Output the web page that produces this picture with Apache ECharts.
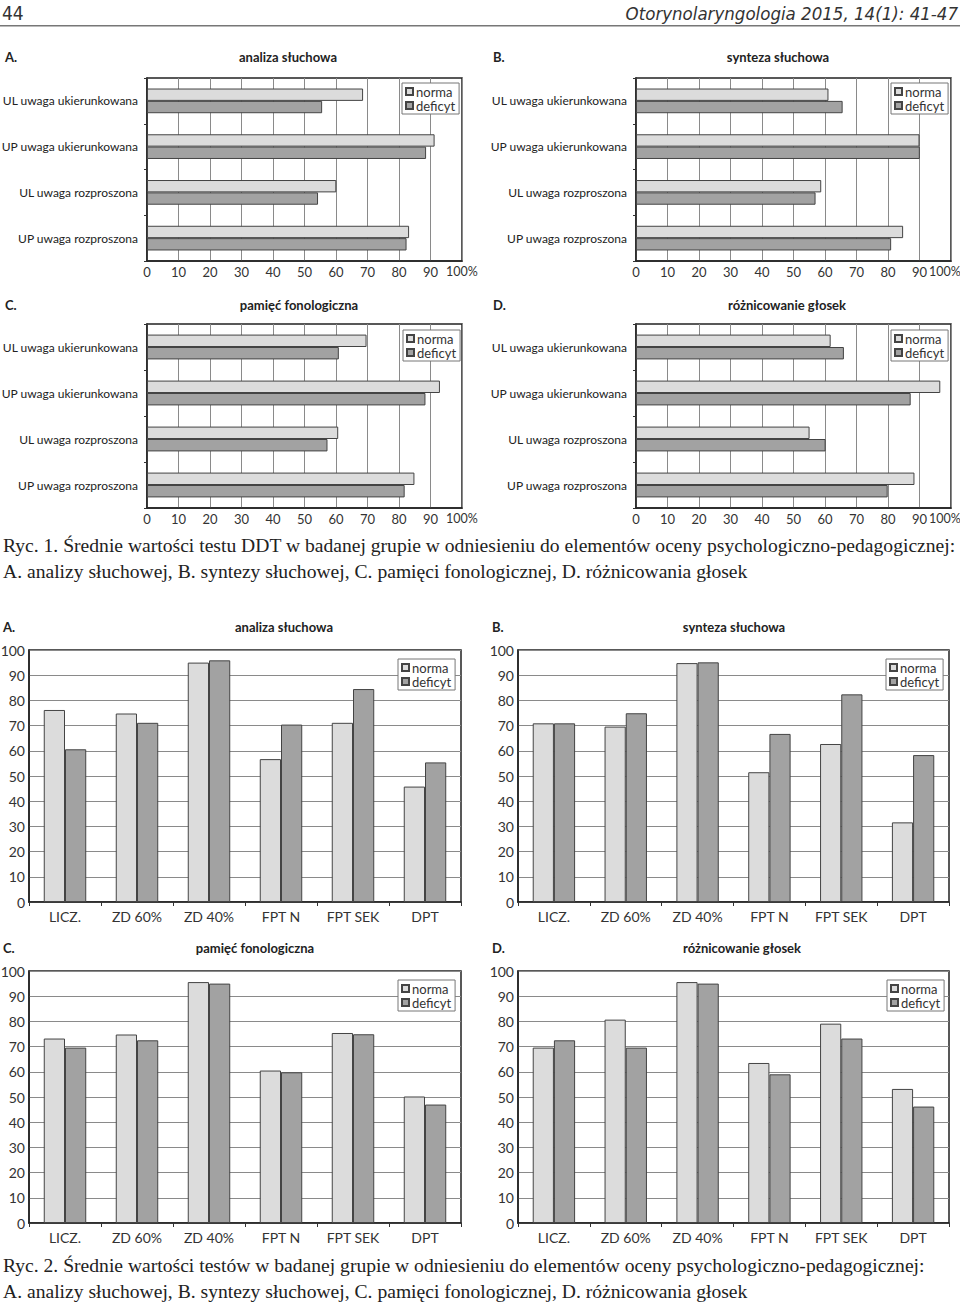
<!DOCTYPE html>
<html><head><meta charset="utf-8">
<script src="https://cdn.jsdelivr.net/npm/echarts@6/dist/echarts.min.js"></script>
<style>html,body{margin:0;padding:0;background:#fff}#c{width:960px;height:1305px}</style>
</head><body><div id="c"></div>
<script>
// ---- data ----
const hCategories = ['UL uwaga ukierunkowana', 'UP uwaga ukierunkowana', 'UL uwaga rozproszona', 'UP uwaga rozproszona'];
const vCategories = ['LICZ.', 'ZD 60%', 'ZD 40%', 'FPT N', 'FPT SEK', 'DPT'];
const seriesNames = ['norma', 'deficyt'];
const panelLetters = ['A.', 'B.', 'C.', 'D.'];
const panelTitles = ['analiza słuchowa', 'synteza słuchowa', 'pamięć fonologiczna', 'różnicowanie głosek'];
const hTickLabels = ['0', '10', '20', '30', '40', '50', '60', '70', '80', '90', '100%'];
const vTickLabels = ['0', '10', '20', '30', '40', '50', '60', '70', '80', '90', '100'];

const hNormaA = [68.6, 91.3, 60.1, 83.2];
const hDeficytA = [55.6, 88.6, 54.3, 82.4];
const hNormaB = [61.1, 90.0, 58.8, 84.8];
const hDeficytB = [65.6, 90.1, 57.0, 81.0];
const hNormaC = [69.7, 93.0, 60.7, 84.9];
const hDeficytC = [60.9, 88.4, 57.3, 81.8];
const hNormaD = [61.8, 96.6, 55.1, 88.4];
const hDeficytD = [66.0, 87.2, 60.2, 79.9];

const vNormaA = [76.2, 74.8, 95.0, 56.7, 71.1, 45.8];
const vDeficytA = [60.6, 71.1, 95.9, 70.4, 84.5, 55.4];
const vNormaB = [70.9, 69.6, 94.8, 51.5, 62.7, 31.6];
const vDeficytB = [70.9, 74.9, 95.1, 66.7, 82.4, 58.3];
const vNormaC = [73.2, 74.8, 95.6, 60.5, 75.4, 50.2];
const vDeficytC = [69.6, 72.5, 95.0, 59.8, 74.9, 47.0];
const vNormaD = [69.6, 80.7, 95.6, 63.5, 79.1, 53.2];
const vDeficytD = [72.5, 69.6, 95.0, 59.0, 73.2, 46.2];

const headerLeft = '44';
const headerRight = 'Otorynolaryngologia 2015, 14(1): 41-47';
const caption1 = ['Ryc. 1. Średnie wartości testu DDT w badanej grupie w odniesieniu do elementów oceny psychologiczno-pedagogicznej:',
  'A. analizy słuchowej, B. syntezy słuchowej, C. pamięci fonologicznej, D. różnicowania głosek'];
const caption2 = ['Ryc. 2. Średnie wartości testów w badanej grupie w odniesieniu do elementów oceny psychologiczno-pedagogicznej:',
  'A. analizy słuchowej, B. syntezy słuchowej, C. pamięci fonologicznej, D. różnicowania głosek'];

// ---- layout ----
const FONT = 'Lato, sans-serif';
const hData = [[hNormaA, hDeficytA], [hNormaB, hDeficytB], [hNormaC, hDeficytC], [hNormaD, hDeficytD]];
const vData = [[vNormaA, vDeficytA], [vNormaB, vDeficytB], [vNormaC, vDeficytC], [vNormaD, vDeficytD]];
const hGrids = [
  {left: 147, top: 78, width: 315, height: 183},
  {left: 636, top: 78, width: 315, height: 183},
  {left: 147, top: 324, width: 315, height: 184},
  {left: 636, top: 324, width: 315, height: 184}
];
const hLastShift = [0, 12, 0, 12];   // right padding on the "100%" label at the page edge
const vGrids = [
  {left: 29, top: 650, width: 432, height: 252},
  {left: 518, top: 650, width: 431, height: 252},
  {left: 29, top: 971, width: 432, height: 252},
  {left: 518, top: 971, width: 431, height: 252}
];
const hLegendPos = [[402, 83], [891, 83], [403, 330], [891, 330]];
const vLegendPos = [[398, 659], [886, 659], [398, 980], [887, 980]];
const hTitlePos = [[288, 57, 5], [778, 57, 493], [299, 305, 5], [787, 305, 493]];
const vTitlePos = [[284, 627, 3], [734, 627, 492], [255, 948, 3], [742, 948, 492]];

const colors = ['#dcdcdc', '#a2a2a2'];
const grid = [], xAxis = [], yAxis = [], series = [], legend = [], graphic = [];

function legendCfg(pos) {
  return {
    left: pos[0], top: pos[1], orient: 'vertical', data: seriesNames,
    itemWidth: 7, itemHeight: 7, itemGap: 1, padding: [2, 4, 2, 3], icon: 'rect',
    backgroundColor: '#fff', borderColor: '#777', borderWidth: 1, borderRadius: 0,
    textStyle: {fontFamily: FONT, fontSize: 13, color: '#333', padding: [0, 0, 0, -2]}
  };
}
function titleTexts(pos, i) {
  graphic.push({type: 'text', x: pos[0], y: pos[1], style: {text: panelTitles[i], font: 'bold 13px ' + FONT, fill: '#222', textAlign: 'center', textVerticalAlign: 'middle'}});
  graphic.push({type: 'text', x: pos[2], y: pos[1], style: {text: panelLetters[i], font: 'bold 13px ' + FONT, fill: '#222', textAlign: 'left', textVerticalAlign: 'middle'}});
}
const gridBase = {show: true, borderColor: '#222', borderWidth: 1.5, backgroundColor: 'transparent', containLabel: false, outerBoundsMode: 'none'};

// horizontal panels
hGrids.forEach((g, i) => {
  const gi = grid.length;
  grid.push(Object.assign({}, gridBase, g));
  xAxis.push({
    gridIndex: gi, type: 'value', min: 0, max: 100, interval: 10,
    axisLine: {show: true, lineStyle: {color: '#222', width: 1.5}},
    axisTick: {show: false},
    splitLine: {show: true, lineStyle: {color: '#8a8a8a', width: 1}},
    axisLabel: {
      fontFamily: FONT, fontSize: 13, color: '#333', margin: 4,
      showMaxLabel: true, showMinLabel: true, hideOverlap: false,
      formatter: v => {
        const k = Math.round(v / 10);
        return k === 10 ? '{p|' + hTickLabels[k] + '}' : hTickLabels[k];
      },
      rich: {p: {fontFamily: FONT, fontSize: 12.5, color: '#333', padding: [0, hLastShift[i], 0, 0]}}
    }
  });
  yAxis.push({
    gridIndex: gi, type: 'category', data: hCategories, inverse: true,
    axisLine: {show: true, lineStyle: {color: '#222', width: 1.5}},
    axisTick: {show: true, length: 3, lineStyle: {color: '#333'}},
    axisLabel: {fontFamily: FONT, fontSize: 12, color: '#222', margin: 9}
  });
  seriesNames.forEach((name, s) => {
    series.push({
      type: 'bar', name: name, xAxisIndex: gi, yAxisIndex: gi, data: hData[i][s],
      barGap: '0%', barCategoryGap: '46%',
      itemStyle: {color: colors[s], borderColor: '#444', borderWidth: 1},
      emphasis: {disabled: true}
    });
  });
  legend.push(legendCfg(hLegendPos[i]));
  titleTexts(hTitlePos[i], i);
});

// vertical panels
vGrids.forEach((g, i) => {
  const gi = grid.length;
  grid.push(Object.assign({}, gridBase, g));
  xAxis.push({
    gridIndex: gi, type: 'category', data: vCategories,
    axisLine: {show: true, lineStyle: {color: '#222', width: 1.5}},
    axisTick: {show: true, length: 4, lineStyle: {color: '#333'}},
    axisLabel: {fontFamily: FONT, fontSize: 14, color: '#333', margin: 7}
  });
  yAxis.push({
    gridIndex: gi, type: 'value', min: 0, max: 100, interval: 10,
    axisLine: {show: true, lineStyle: {color: '#222', width: 1.5}},
    axisTick: {show: false},
    splitLine: {show: true, lineStyle: {color: '#8a8a8a', width: 1}},
    axisLabel: {fontFamily: FONT, fontSize: 14, color: '#333', margin: 4, formatter: v => vTickLabels[Math.round(v / 10)]}
  });
  seriesNames.forEach((name, s) => {
    series.push({
      type: 'bar', name: name, xAxisIndex: gi, yAxisIndex: gi, data: vData[i][s],
      barGap: '0%', barCategoryGap: '41%',
      itemStyle: {color: colors[s], borderColor: '#444', borderWidth: 1},
      emphasis: {disabled: true}
    });
  });
  legend.push(legendCfg(vLegendPos[i]));
  titleTexts(vTitlePos[i], i);
});

// header and captions
graphic.push({type: 'text', x: 2, y: 13, style: {text: headerLeft, font: '19px "DejaVu Sans Condensed", sans-serif', fill: '#333', textVerticalAlign: 'middle'}});
graphic.push({type: 'text', x: 958, y: 13, style: {text: headerRight, font: 'italic 18.5px "DejaVu Sans Condensed", sans-serif', fill: '#333', textAlign: 'right', textVerticalAlign: 'middle'}});
graphic.push({type: 'rect', shape: {x: 0, y: 25, width: 960, height: 1.5}, style: {fill: '#777'}});
const capFont = '19.6px "Liberation Serif", serif';
[[caption1, 545], [caption2, 1265]].forEach(([cap, y]) => {
  cap.forEach((line, k) => {
    graphic.push({type: 'text', x: 3, y: y + k * 26, style: {text: line, font: capFont, fill: '#222', textVerticalAlign: 'middle'}});
  });
});

const chart = echarts.init(document.getElementById('c'), null, {renderer: 'svg'});
chart.setOption({
  animation: false,
  backgroundColor: '#fff',
  grid, xAxis, yAxis, series, legend, graphic
});
</script></body></html>
